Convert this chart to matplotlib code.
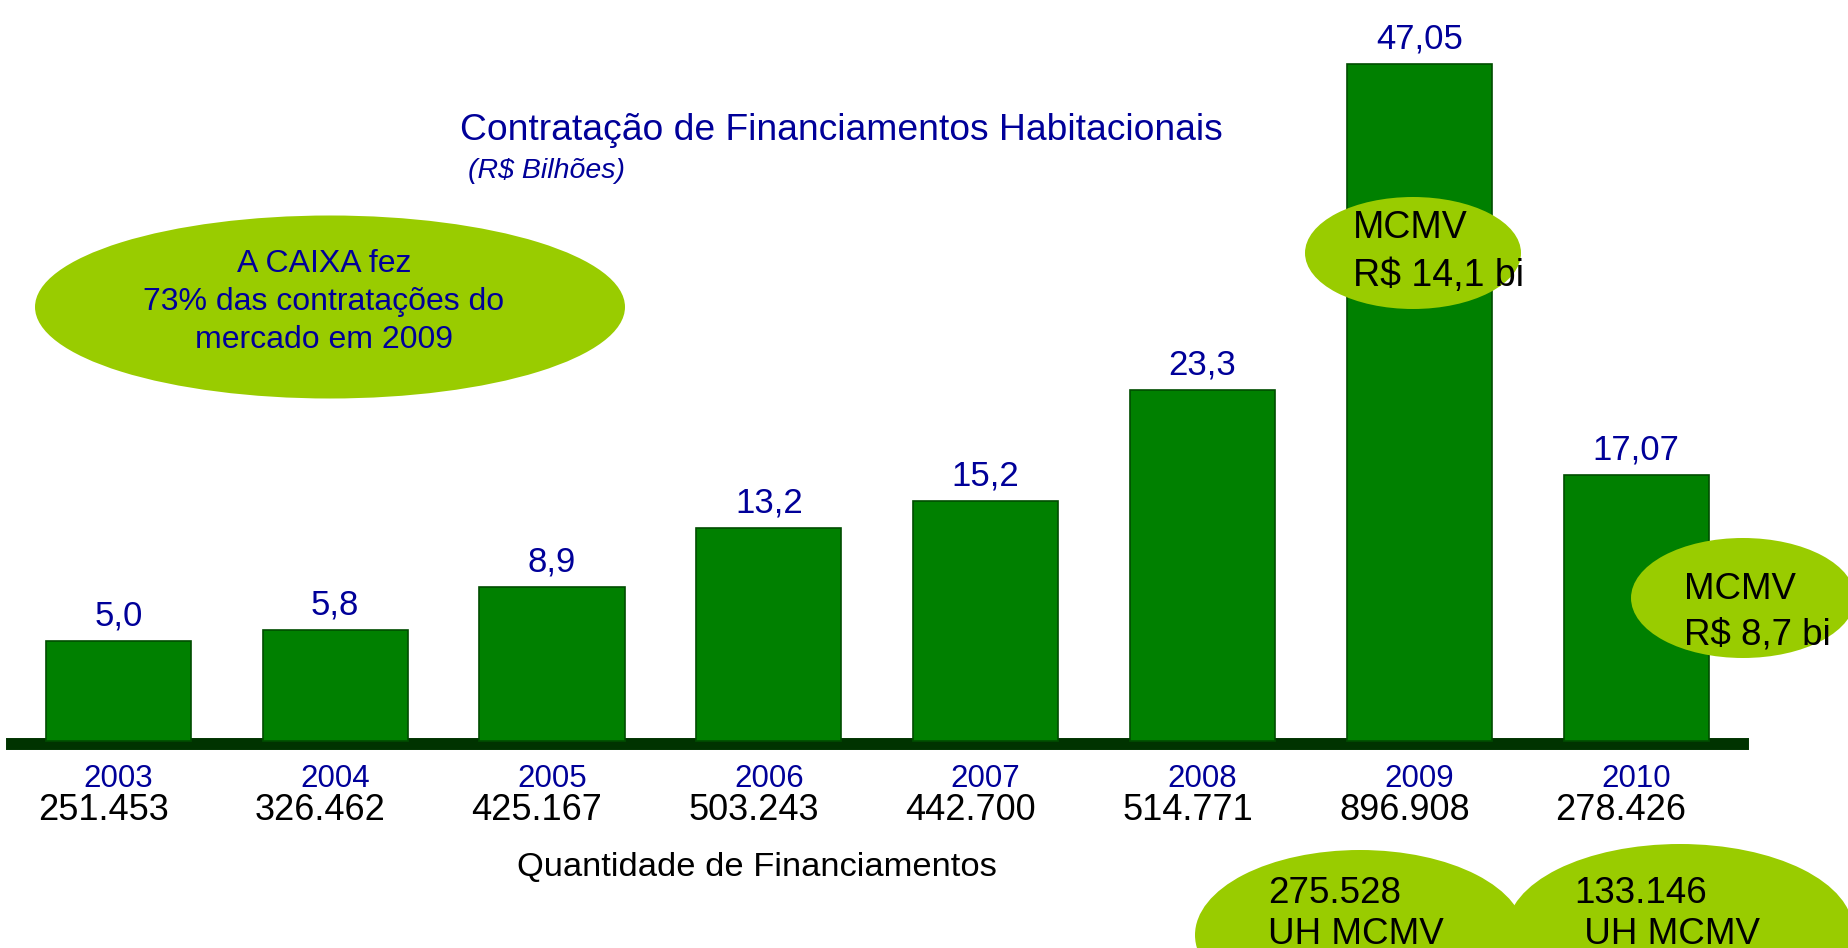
import matplotlib
matplotlib.use("Agg")
import matplotlib.pyplot as plt
from matplotlib.patches import Ellipse
import numpy as np

# dados
anos = ["2003", "2004", "2005", "2006", "2007", "2008", "2009", "2010"]
valores = [5.0, 5.8, 8.9, 13.2, 15.2, 23.3, 47.05, 17.07]
rotulos_valor = ["5,0", "5,8", "8,9", "13,2", "15,2", "23,3", "47,05", "17,07"]
quantidades = ["251.453", "326.462", "425.167", "503.243", "442.700", "514.771", "896.908", "278.426"]

titulo = "Contratação de Financiamentos Habitacionais"
subtitulo = "(R$ Bilhões)"
nota_caixa = "A CAIXA fez\n73% das contratações do\nmercado em 2009"
mcmv_2009 = "MCMV\nR$ 14,1 bi"
mcmv_2010 = "MCMV\nR$ 8,7 bi"
uh_2009 = "275.528\nUH MCMV"
uh_2010 = "133.146\n UH MCMV"
rotulo_qtd = "Quantidade de Financiamentos"

# cores
VERDE = "#008000"
VERDE_ESCURO = "#003300"
VERDE_CLARO = "#99CC00"
AZUL = "#000099"
FONTE = "Liberation Sans"

W, H = 1849, 948
BASE = -2.32  # linha de base do grafico


def fx(px):
    return px / W


def fy(py):
    return 1 - py / H


fig = plt.figure(figsize=(W / 100, H / 100), dpi=100)
ax = fig.add_axes([0, 0, 1, 1])
ax.set_xlim(-0.5455, 7.981)
ax.set_ylim(-17.42, 51.73)
ax.axis("off")

x = np.arange(len(anos))
alturas = np.array(valores) - BASE

# barras
ax.bar(x, alturas, bottom=BASE, width=0.669, color=VERDE,
       edgecolor="#004d00", linewidth=1.2, zorder=2)
ax.axhline(BASE - 0.2, xmin=fx(12), xmax=fx(1743), color=VERDE_ESCURO,
           linewidth=8.6, zorder=1.5)

# rotulos
for i in range(len(anos)):
    ax.annotate(rotulos_valor[i], (x[i], valores[i]), xytext=(0, 11),
                textcoords="offset points", ha="center", va="baseline",
                fontsize=25, color=AZUL, family=FONTE, zorder=4)
    ax.text(x[i], fy(779), anos[i], transform=ax.get_xaxis_transform(),
            ha="center", va="center", fontsize=22.5, color=AZUL, family=FONTE)
    ax.text(x[i] - 0.07, fy(811), quantidades[i], transform=ax.get_xaxis_transform(),
            ha="center", va="center", fontsize=26, color="black", family=FONTE)

ax.text(fx(757), fy(867), rotulo_qtd, transform=ax.transAxes, ha="center",
        va="center", fontsize=24.8, color="black", family=FONTE)

# titulo
ax.text(fx(460), fy(131), titulo, transform=ax.transAxes, ha="left",
        va="center", fontsize=26.8, color=AZUL, family=FONTE)
ax.text(fx(468), fy(171), subtitulo, transform=ax.transAxes, ha="left",
        va="center", fontsize=20.5, color=AZUL, family=FONTE, style="italic")

# elipses
elipses = [
    (330, 307, 590, 183),
    (1413, 253, 216, 112),
    (1743, 598, 224, 120),
    (1360, 935, 330, 170),
    (1680, 930, 346, 172),
]
for cx, cy, w, h in elipses:
    ax.add_patch(Ellipse((fx(cx), fy(cy)), fx(w), h / H, transform=ax.transAxes,
                         facecolor=VERDE_CLARO, edgecolor="none", zorder=3))

ax.text(fx(324), fy(302), nota_caixa, transform=ax.transAxes, ha="center",
        va="center", fontsize=23, color=AZUL, family=FONTE,
        linespacing=1.35, zorder=4)
ax.text(fx(1353), fy(252), mcmv_2009, transform=ax.transAxes, ha="left",
        va="center", fontsize=27, color="black", family=FONTE,
        linespacing=1.45, zorder=4)
ax.text(fx(1684), fy(612), mcmv_2010, transform=ax.transAxes, ha="left",
        va="center", fontsize=26.4, color="black", family=FONTE,
        linespacing=1.38, zorder=4)
ax.text(fx(1268), fy(914), uh_2009, transform=ax.transAxes, ha="left",
        va="center", fontsize=26.5, color="black", family=FONTE,
        linespacing=1.2, zorder=4)
ax.text(fx(1574), fy(914), uh_2010, transform=ax.transAxes, ha="left",
        va="center", fontsize=26.5, color="black", family=FONTE,
        linespacing=1.2, zorder=4)

fig.savefig("out.png", dpi=100)
